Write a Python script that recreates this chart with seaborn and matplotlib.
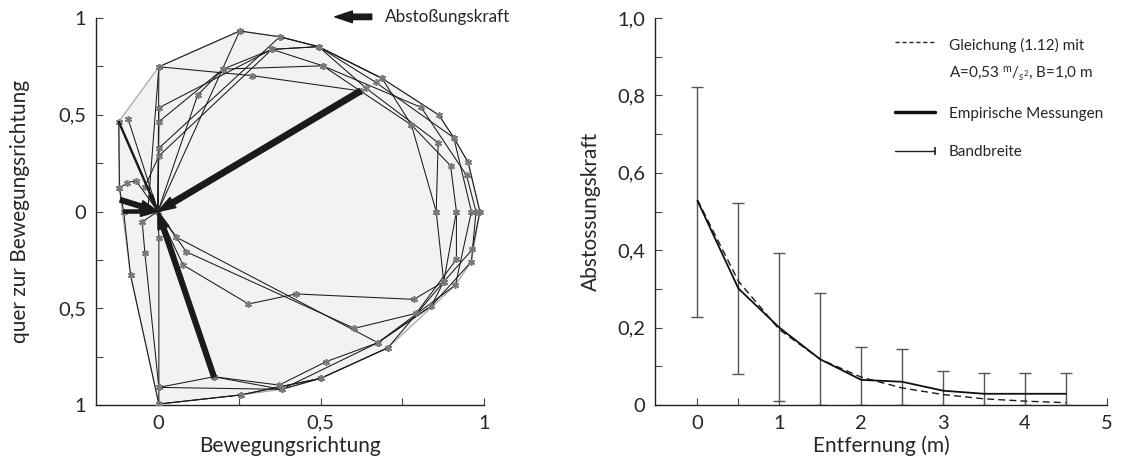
import matplotlib
matplotlib.use("Agg")
import matplotlib.pyplot as plt
import numpy as np
import seaborn as sns
from matplotlib.lines import Line2D
from matplotlib.legend_handler import HandlerBase

# ---- left panel: relative positions (x along walking direction, y across)
traj_a = [(0.0, 0.0), (0.003, 0.536), (0.35, 0.838), (0.493, 0.852), (0.688, 0.688),
          (0.862, 0.499), (0.908, 0.381), (0.952, 0.254), (0.988, 0.0), (0.965, -0.196),
          (0.877, -0.363), (0.706, -0.704), (0.50, -0.862), (0.254, -0.948), (0.003, -0.995)]
traj_b = [(0.0, 0.0), (0.003, 0.327), (0.374, 0.903), (0.493, 0.852), (0.668, 0.668),
          (0.908, 0.381), (0.962, 0.0), (0.913, -0.38), (0.675, -0.678), (0.38, -0.919),
          (0.003, -0.909)]
traj_c = [(-0.04, 0.128), (0.003, 0.287), (0.35, 0.838), (0.506, 0.753), (0.808, 0.538),
          (0.947, 0.187), (0.976, 0.0), (0.962, -0.259), (0.839, -0.488), (0.675, -0.678),
          (0.516, -0.776), (0.372, -0.897), (0.172, -0.854)]
traj_d = [(0.0, 0.0), (0.251, 0.933), (0.374, 0.903), (0.493, 0.852), (0.639, 0.637),
          (0.86, 0.356), (0.854, 0.0), (0.877, -0.363), (0.785, -0.454), (0.424, -0.426),
          (0.278, -0.478), (0.077, -0.276), (0.0, 0.0)]
traj_e = [(-0.03, 0.02), (0.003, 0.748), (0.29, 0.702), (0.622, 0.623)]
traj_f = [(0.0, 0.0), (0.122, 0.602), (0.2, 0.736), (0.35, 0.838), (0.493, 0.852),
          (0.688, 0.688), (0.778, 0.447), (0.898, 0.237), (0.916, 0.0), (0.916, -0.247),
          (0.793, -0.526), (0.603, -0.604), (0.087, -0.208), (0.0, 0.0)]
traj_g = [(-0.12, 0.464), (-0.118, 0.12), (-0.105, 0.0), (-0.084, -0.328), (0.003, -0.995)]
traj_h = [(-0.091, 0.476), (0.0, 0.0), (-0.048, -0.053), (-0.04, -0.213), (0.003, -0.909),
          (0.172, -0.854), (0.38, -0.919), (0.50, -0.862)]
traj_i = [(-0.118, 0.12), (-0.094, 0.149), (-0.067, 0.159), (0.0, 0.0), (0.003, 0.748),
          (0.251, 0.933)]
traj_j = [(0.0, 0.0), (0.003, -0.139), (0.003, -0.909), (0.003, -0.995), (0.254, -0.948),
          (0.50, -0.862), (0.706, -0.704)]
traj_k = [(0.0, 0.0), (0.057, -0.133), (0.675, -0.678), (0.839, -0.488), (0.877, -0.363),
          (0.916, 0.0)]
traj_l = [(0.0, 0.0), (0.003, 0.464), (0.2, 0.736), (0.506, 0.753), (0.778, 0.447),
          (0.854, 0.0)]
trajectories = [traj_a, traj_b, traj_c, traj_d, traj_e, traj_f, traj_g, traj_h,
                traj_i, traj_j, traj_k, traj_l]

# repulsion arrows (start points, all point to the origin)
arrow_x = [0.622, 0.172, -0.115, -0.105, -0.12]
arrow_y = [0.623, -0.854, 0.06, 0.0, 0.464]

# ---- right panel
dist = [0, 0.5, 1, 1.5, 2, 2.5, 3, 3.5, 4, 4.5]
force_emp = [0.528, 0.301, 0.20, 0.118, 0.065, 0.060, 0.037, 0.029, 0.029, 0.029]
force_eq = [0.53, 0.32, 0.195, 0.118, 0.072, 0.044, 0.027, 0.016, 0.010, 0.006]
band_low = [0.228, 0.080, 0.011, 0.0, 0.0, 0.0, 0.0, 0.0, 0.0, 0.0]
band_high = [0.822, 0.523, 0.394, 0.289, 0.149, 0.146, 0.088, 0.084, 0.084, 0.084]

sns.set_style("ticks")
plt.rcParams['font.family'] = ['Lato', 'DejaVu Sans']
plt.rcParams['mathtext.fontset'] = 'custom'
plt.rcParams['mathtext.rm'] = 'Lato'
plt.rcParams['mathtext.it'] = 'Lato:italic'

fig = plt.figure(figsize=(11.33, 4.68), dpi=100)
ax1 = fig.add_axes([0.0847, 0.1346, 0.3423, 0.8269])
ax2 = fig.add_axes([0.578, 0.1346, 0.399, 0.8269])

# convex hull of all positions
pts = sorted(set(p for t in trajectories for p in t))


def cross(o, a, b):
    return (a[0] - o[0]) * (b[1] - o[1]) - (a[1] - o[1]) * (b[0] - o[0])


lower, upper = [], []
for p in pts:
    while len(lower) >= 2 and cross(lower[-2], lower[-1], p) <= 0:
        lower.pop()
    lower.append(p)
for p in reversed(pts):
    while len(upper) >= 2 and cross(upper[-2], upper[-1], p) <= 0:
        upper.pop()
    upper.append(p)
hull = np.array(lower[:-1] + upper[:-1])
ax1.fill(hull[:, 0], hull[:, 1], facecolor='#f1f2f4', edgecolor='#a8a8a8', lw=0.9, zorder=1)

for t in trajectories:
    t = np.array(t)
    ax1.plot(t[:, 0], t[:, 1], color='#1a1a1a', lw=0.75, zorder=2)
    ax1.plot(t[:, 0], t[:, 1], ls='none', marker=(6, 2, 0), ms=5, mew=1.1,
             color='#777777', zorder=3)

tail_w = [0.28, 0.24, 0.24, 0.16, 0.05]
head_w = [0.6, 0.6, 0.6, 0.5, 0.2]
for x0, y0, tw, hw in zip(arrow_x, arrow_y, tail_w, head_w):
    ax1.annotate('', xy=(0, 0), xytext=(x0, y0),
                 arrowprops=dict(arrowstyle=f'simple,head_length=0.9,head_width={hw},tail_width={tw}',
                                 color='#1a1a1a', shrinkA=0, shrinkB=0, mutation_scale=14),
                 zorder=4)

# legend arrow
ax1.annotate('', xy=(0.616, 1.003), xytext=(0.711, 1.003), xycoords='axes fraction',
             arrowprops=dict(arrowstyle='simple,head_length=0.9,head_width=0.6,tail_width=0.28',
                             color='#1a1a1a', shrinkA=0, shrinkB=0, mutation_scale=14),
             annotation_clip=False)
ax1.text(0.745, 1.003, 'Abstoßungskraft', transform=ax1.transAxes, fontsize=12.3,
         va='center', ha='left')

ax1.set_xlim(-0.19, 1.0)
ax1.set_ylim(-1, 1)
ax1.set_xticks([0, 0.5, 1])
ax1.set_xticklabels(['0', '0,5', '1'])
ax1.set_xticks([0.25, 0.75], minor=True)
ax1.set_yticks([-1, -0.5, 0, 0.5, 1])
ax1.set_yticklabels(['1', '0,5', '0', '0,5', '1'])
ax1.set_yticks([-0.75, -0.25, 0.25, 0.75], minor=True)
ax1.set_xlabel('Bewegungsrichtung', fontsize=15, labelpad=3)
ax1.set_ylabel('quer zur Bewegungsrichtung', fontsize=15, labelpad=20)

# right panel
ax2.errorbar(dist, force_emp,
             yerr=[np.array(force_emp) - np.array(band_low), np.array(band_high) - np.array(force_emp)],
             fmt='none', ecolor='#555555', elinewidth=1, capsize=4, capthick=1, zorder=2)
sns.lineplot(x=dist, y=force_eq, ax=ax2, color='#1a1a1a', lw=1, linestyle=(0, (5, 3)), zorder=3)
sns.lineplot(x=dist, y=force_emp, ax=ax2, color='#111111', lw=1.3, zorder=4)

ax2.set_xlim(-0.52, 5)
ax2.set_ylim(0, 1.0)
ax2.set_xticks([0, 1, 2, 3, 4, 5])
ax2.set_xticks([0.5, 1.5, 2.5, 3.5, 4.5], minor=True)
ax2.set_yticks([0, 0.2, 0.4, 0.6, 0.8, 1.0])
ax2.set_yticklabels(['0', '0,2', '0,4', '0,6', '0,8', '1,0'])
ax2.set_yticks([0.1, 0.3, 0.5, 0.7, 0.9], minor=True)
ax2.set_xlabel('Entfernung (m)', fontsize=15, labelpad=3)
ax2.set_ylabel('Abstossungskraft', fontsize=15, labelpad=12)


class CapHandler(HandlerBase):
    def create_artists(self, legend, orig, xd, yd, w, h, fontsize, trans):
        y = h / 2 - yd
        line = Line2D([-xd, w - xd], [y, y], color='#222222', lw=1)
        cap = Line2D([w - xd], [y], marker='|', ms=6, mew=1.2, color='#222222')
        line.set_transform(trans)
        cap.set_transform(trans)
        return [line, cap]


class TopLineHandler(HandlerBase):
    # dashed handle next to the first of two text lines
    def create_artists(self, legend, orig, xd, yd, w, h, fontsize, trans):
        y = h / 2 - yd + 1.15 * fontsize
        line = Line2D([-xd, w - xd], [y, y], color='#222222', lw=1, ls=(0, (3, 2)))
        line.set_transform(trans)
        return [line]


eq_handle = Line2D([], [], color='#222222')
band_handle = Line2D([], [], color='#222222')
handles = [eq_handle, Line2D([], [], color='#111111', lw=2.5), band_handle]
labels = ['Gleichung (1.12) mit\n' + r'A=0,53 $^{\mathrm{m}}/_{s^{2}}$, B=1,0 m',
          'Empirische Messungen', 'Bandbreite']
leg = ax2.legend(handles, labels, loc='upper right', bbox_to_anchor=(1.022, 0.985), frameon=False,
                 fontsize=11, handlelength=2.6, handletextpad=0.9, labelspacing=1.6,
                 handler_map={band_handle: CapHandler(), eq_handle: TopLineHandler()})
for t in leg.get_texts():
    t.set_linespacing(1.9)

for ax in (ax1, ax2):
    sns.despine(ax=ax)
    for s in ('left', 'bottom'):
        ax.spines[s].set_color('#222222')
        ax.spines[s].set_linewidth(1.0)
    ax.tick_params(which='both', direction='in', length=5, width=0.8, color='#444444',
                   labelsize=14.5, pad=7)

fig.savefig('out.png', dpi=100)
